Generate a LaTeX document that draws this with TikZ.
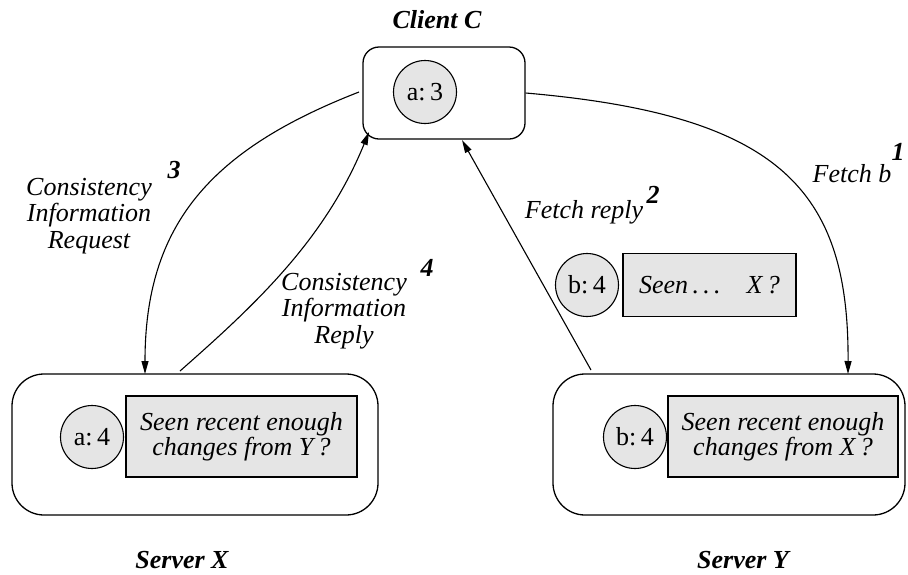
\documentclass[tikz,border=0pt]{standalone}
\usepackage{fontspec}
\setmainfont{Liberation Serif}
\usetikzlibrary{arrows.meta}
\definecolor{boxgray}{RGB}{229,229,229}
\begin{document}
\begin{tikzpicture}[x=1pt,y=-1pt,
  every node/.style={font=\fontsize{26}{26}\selectfont},
  outerbox/.style={draw,line width=1.3pt,rounded corners=#1,inner sep=0pt},
  valcirc/.style={draw,circle,fill=boxgray,line width=1.1pt,minimum size=63pt,inner sep=0pt},
  qbox/.style={draw,fill=boxgray,line width=1.1pt,inner sep=0pt,align=center,font=\fontsize{26}{25}\selectfont\itshape},
  title/.style={font=\fontsize{26}{26}\selectfont\bfseries\itshape},
  lab/.style={align=center,font=\fontsize{26}{26.5}\selectfont\itshape},
  num/.style={font=\fontsize{26}{26}\selectfont\bfseries\itshape},
  conn/.style={line width=1.1pt,-{Triangle[length=13pt,width=7pt]}}]
\useasboundingbox (0,0) rectangle (908,574);
% Client
\node[title] (ctitle) at (437,20) {Client C};
\node[outerbox=16pt,minimum width=162pt,minimum height=92pt] (client) at (444,93) {};
\node[valcirc] (a3) at (425,92) {a:\,3};
% Server X
\node[outerbox=32pt,minimum width=366pt,minimum height=141pt] (sx) at (195,444.5) {};
\node[valcirc] (a4) at (92,437) {a:\,4};
\node[qbox,minimum width=231pt,minimum height=81pt] (qx) at (241.5,436.5) {Seen recent enough\\changes from Y\,?};
\node[title] (sxt) at (182,560) {Server X};
% Server Y
\node[outerbox=32pt,minimum width=352pt,minimum height=141pt] (sy) at (729,444.5) {};
\node[valcirc] (b4) at (635,437) {b:\,4};
\node[qbox,minimum width=230pt,minimum height=81pt] (qy) at (783,436.5) {Seen recent enough\\changes from X\,?};
\node[title] (syt) at (743,560) {Server Y};
% floating message
\node[valcirc] (b4m) at (587,285) {b:\,4};
\node[qbox,minimum width=173pt,minimum height=63pt] (qm) at (709.5,285) {Seen\,.\,.\,.\quad X\,?};
% anchors on borders
\coordinate (yin) at (848,374);
\coordinate (yout) at (591,370);
\coordinate (xin) at (145,374);
\coordinate (xout) at (180,371);
\coordinate (cleft) at (359,92);
\coordinate (cbl) at (369,132);
\coordinate (cbot) at (462,140);
% connectors
\draw[conn] (client.east) .. controls (780,115) and (849,190) .. (yin);
\draw[conn] (yout) -- (cbot);
\draw[conn] (cleft) .. controls (210,150) and (145,225) .. (xin);
\draw[conn] (xout) .. controls (255,305) and (325,240) .. (cbl);
% labels
\node[lab] (l1) at (852,174) {Fetch b};
\node[num] (n1) at (898,152) {1};
\node[lab] (l2) at (584,212) {Fetch reply};
\node[num] (n2) at (653,195) {2};
\node[lab] (l3) at (89,216) {Consistency\\Information\\Request};
\node[num] (n3) at (174,170) {3};
\node[lab] (l4) at (344,311) {Consistency\\Information\\Reply};
\node[num] (n4) at (427,268) {4};
\end{tikzpicture}
\end{document}
